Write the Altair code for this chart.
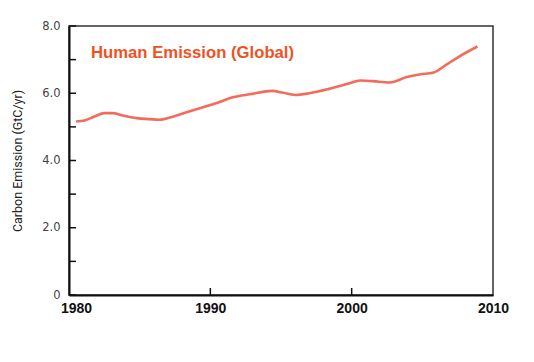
import altair as alt
import pandas as pd

# Line readings (year, GtC/yr)
years = [1980.5, 1981.1, 1981.8, 1982.5, 1983.1, 1983.8, 1984.8, 1985.7, 1986.4,
         1987.4, 1988.5, 1989.7, 1990.4, 1991.6, 1992.8, 1994.4, 1995.1, 1996.0,
         1997.0, 1998.4, 1999.8, 2000.6, 2001.5, 2002.7, 2003.9, 2004.8, 2005.8,
         2006.7, 2007.6, 2008.9]
emission = [5.16, 5.19, 5.31, 5.41, 5.41, 5.34, 5.26, 5.23, 5.21,
            5.31, 5.46, 5.61, 5.70, 5.88, 5.97, 6.07, 6.02, 5.95,
            6.00, 6.13, 6.29, 6.38, 6.36, 6.32, 6.48, 6.56, 6.62,
            6.85, 7.09, 7.39]

y_major = [0, 2, 4, 6, 8]
y_minor = [1, 3, 5, 7]
x_ticks = [1980, 1990, 2000, 2010]
title_text = "Human Emission (Global)"

df = pd.DataFrame({"year": years, "emission": emission})
ytick_df = pd.DataFrame({"v": y_major + y_minor})
xtick_df = pd.DataFrame({"t": [1990, 2000]})

xscale = alt.Scale(domain=[1980, 2010], nice=False, zero=False)
yscale = alt.Scale(domain=[0, 8], nice=False)

line = alt.Chart(df).mark_line(
    color="#f26b5b", strokeWidth=2.6, interpolate="monotone"
).encode(
    x=alt.X("year:Q", scale=xscale,
            axis=alt.Axis(values=x_ticks, format="d", title=None, ticks=False, tickSize=0,
                          labelFlush=False,
                          labelOffset={"condition": {"test": "datum.value == 1980", "value": 7},
                                       "value": 0},
                          labelPadding=6, labelFont="Liberation Sans", labelFontSize=14,
                          labelFontWeight="bold", labelColor="#111", grid=False,
                          domainColor="#111", domainWidth=2)),
    y=alt.Y("emission:Q", scale=yscale,
            axis=alt.Axis(values=y_major, title="Carbon Emission (GtC/yr)", ticks=False, tickSize=0,
                          labelExpr="datum.value == 0 ? '0' : format(datum.value, '.1f')",
                          labelPadding=9, labelFont="DejaVu Sans", labelFontSize=11.5,
                          labelColor="#444", grid=False, domainColor="#111", domainWidth=2,
                          titleFont="Roboto", titleFontSize=12.5,
                          titleFontWeight="normal", titleColor="#222",
                          titleX=-45, titleBaseline="bottom")),
)

yticks = alt.Chart(ytick_df).mark_rule(color="#111", strokeWidth=1.5).encode(
    y=alt.Y("v:Q", scale=yscale), x=alt.value(0), x2=alt.value(7)
)
xticks = alt.Chart(xtick_df).mark_rule(color="#111", strokeWidth=1.5).encode(
    x=alt.X("t:Q", scale=xscale), y=alt.value(269), y2=alt.value(262)
)
label = alt.Chart(pd.DataFrame({"t": [title_text]})).mark_text(
    align="left", baseline="middle", font="Liberation Sans", fontSize=16.7,
    fontWeight="bold", color="#f0521f"
).encode(text="t:N", x=alt.value(22), y=alt.value(27))

chart = alt.layer(line, yticks, xticks, label).properties(
    width=424, height=269,
    autosize=alt.AutoSizeParams(type="none"),
    padding={"left": 61, "top": 18, "right": 33, "bottom": 59},
).configure_view(stroke="#333", strokeWidth=1.5)

chart.save("out.html", embed_options={"renderer": "svg", "actions": False})
